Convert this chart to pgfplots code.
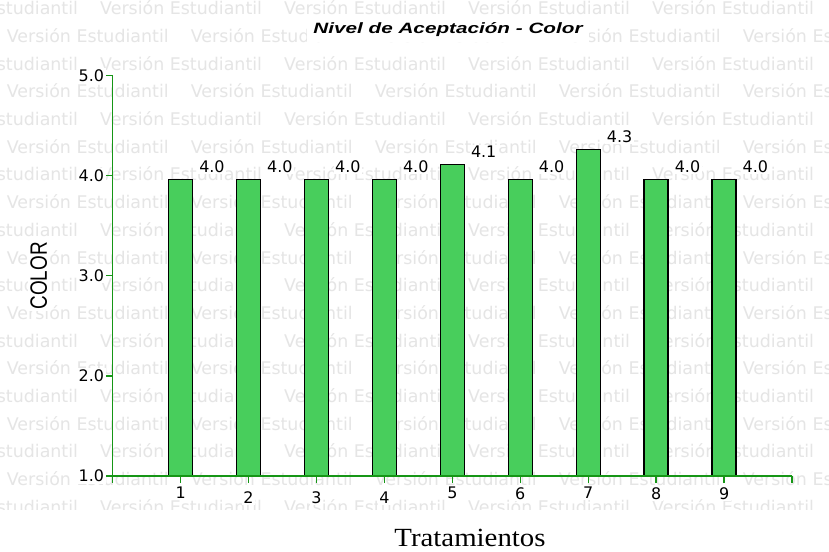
\documentclass[border=0pt]{standalone}
\usepackage{graphicx}
\usepackage{pgfplots}
\pgfplotsset{compat=1.18}
\usepackage{fontspec}
\newfontfamily\dejavu{DejaVu Sans}
\newfontfamily\libsans{Liberation Sans}
\newfontfamily\libserif{Liberation Serif}
\definecolor{axisgreen}{RGB}{22,150,22}
\definecolor{barfill}{RGB}{72,206,92}
\definecolor{wmgray}{RGB}{229,229,229}
% tick label set a little lower than its neighbours
\newcommand{\low}[1]{\vphantom{0}\raisebox{-4.5bp}{#1}}

\begin{document}
\begin{tikzpicture}
% fixed page frame
\useasboundingbox (0,0) rectangle (829bp,552bp);
\fill[white] (0,0) rectangle (829bp,552bp);

% student-edition watermark, repeated in staggered rows
\begin{scope}
\clip (0,42bp) rectangle (829bp,552bp);
\foreach \k in {0,...,19}{
  \pgfmathsetmacro\yb{537.2-27.7*\k}
  \pgfmathsetmacro\xo{ifthenelse(mod(\k,2)==0,-84,6.7)}
  \foreach \m in {0,...,5}{
    \pgfmathsetmacro\xb{\xo+184*\m}
    \node[anchor=base west, inner sep=0pt, text=wmgray,
          font=\dejavu\fontsize{17.5}{17.5}\selectfont]
      at (\xb bp, \yb bp) {Versión Estudiantil};
  }
}
\end{scope}

\begin{axis}[
  at={(112.7bp,76bp)}, anchor=south west,
  scale only axis, width=679.3bp, height=400.3bp,
  xmin=0, xmax=10, ymin=1, ymax=5,
  axis x line*=bottom, axis y line*=left,
  axis line style={axisgreen, line width=1.3bp, -},
  tick style={axisgreen, line width=1.3bp},
  tick align=outside, major tick length=7bp,
  xtick={0,...,10},
  xticklabels={,1,\low{2},\low{3},\low{4},5,6,7,8,9,},
  xticklabel style={yshift=-2.5bp},
  ytick={1,2,3,4,5},
  yticklabel style={/pgf/number format/.cd, fixed, fixed zerofill, precision=1},
  /pgf/number format/assume math mode=true,
  tick label style={font=\dejavu\fontsize{16}{16}\selectfont, fill=white, inner sep=1.5bp, text=black},
  ybar, bar width=24bp,
  axis on top,
  nodes near coords={\pgfmathprintnumber[fixed,fixed zerofill,precision=1]{\pgfplotspointmeta}},
  nodes near coords style={anchor=south west, xshift=16.5bp, yshift=4.8bp, fill=white,
    inner sep=1.5bp, text=black, font=\dejavu\fontsize{16}{16}\selectfont},
]
\addplot[draw=black, fill=barfill, line width=1.3bp] coordinates {
  (1,3.96) (2,3.96) (3,3.96) (4,3.96) (5,4.11) (6,3.96) (7,4.26) (8,3.96) (9,3.96)
};
\end{axis}

% titles
\node[anchor=base, fill=white, inner sep=6bp,
      font=\libsans\bfseries\itshape\fontsize{15}{15}\selectfont]
  at (448bp,518.7bp) {\scalebox{1.385}[1]{Nivel de Aceptación - Color}};
\node[rotate=90, fill=white, inner sep=2bp,
      font=\libsans\fontsize{19}{19}\selectfont]
  at (38.7bp,276.2bp) {\scalebox{1}[1.25]{COLOR}};
\node[anchor=base, inner sep=0pt, font=\libserif\fontsize{26.3}{26.3}\selectfont]
  at (470bp,5.3bp) {\scalebox{1.1}[1]{Tratamientos}};
\end{tikzpicture}
\end{document}
